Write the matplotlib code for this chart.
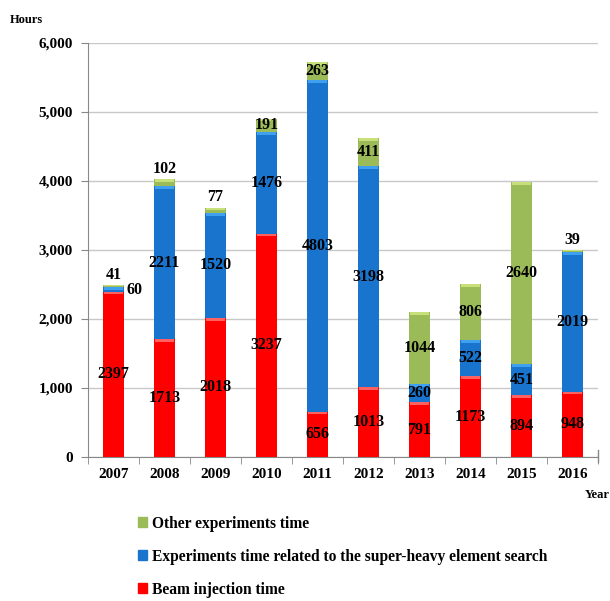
import numpy as np
import matplotlib.pyplot as plt
from matplotlib.patches import Patch

years = ['2007', '2008', '2009', '2010', '2011', '2012', '2013', '2014', '2015', '2016']
beam = [2397, 1713, 2018, 3237, 656, 1013, 791, 1173, 894, 948]
shes = [60, 2211, 1520, 1476, 4803, 3198, 260, 522, 451, 2019]
other = [41, 102, 77, 191, 263, 411, 1044, 806, 2640, 39]

red = '#FF0000'
blue = '#1874CD'
green = '#9BBB59'

plt.rcParams['font.family'] = ['Liberation Serif', 'DejaVu Serif']
plt.rcParams['font.weight'] = 'bold'

fig = plt.figure(figsize=(6.1, 6.01), dpi=100)
ax = fig.add_axes([0.1443, 0.2396, 0.8357, 0.6889])

x = np.arange(len(years))
w = 0.42
b1 = np.array(beam)
b2 = b1 + np.array(shes)
ax.bar(x, beam, w, color=red, zorder=3)
ax.bar(x, shes, w, bottom=b1, color=blue, zorder=3)
ax.bar(x, other, w, bottom=b2, color=green, zorder=3)

# light highlight at top of each segment (rounded look)
for bottoms, vals, c in [(np.zeros(10), beam, '#FF6060'), (b1, shes, '#3FA0F0'), (b2, other, '#C8E07A')]:
    for i in range(10):
        h = min(40, vals[i] * 0.5)
        ax.bar(x[i], h, w * 0.9, bottom=bottoms[i] + vals[i] - h, color=c, zorder=4)

fs = 11.5
for i in range(10):
    ax.text(x[i], beam[i] / 2, str(beam[i]), ha='center', va='center', fontsize=fs, fontweight='bold', zorder=5)
    if shes[i] > 150:
        ax.text(x[i], b1[i] + shes[i] / 2, str(shes[i]), ha='center', va='center', fontsize=fs, fontweight='bold', zorder=5)
    else:
        ax.text(x[i] + 0.25, b1[i] + shes[i] / 2, str(shes[i]), ha='left', va='center', fontsize=fs, fontweight='bold', zorder=5)
    if other[i] > 150:
        ax.text(x[i], b2[i] + other[i] / 2, str(other[i]), ha='center', va='center', fontsize=fs, fontweight='bold', zorder=5)
    else:
        ax.text(x[i], b2[i] + other[i] + 30, str(other[i]), ha='center', va='bottom', fontsize=fs, fontweight='bold', zorder=5)

ax.set_xlim(-0.5, 9.5)
ax.set_ylim(0, 6000)
ax.set_yticks(range(0, 6001, 1000))
ax.set_yticklabels(['{:,}'.format(v) for v in range(0, 6001, 1000)], fontsize=11, fontweight='bold')
ax.set_xticks(x)
ax.set_xticklabels(years, fontsize=11, fontweight='bold')
ax.set_xticks(np.arange(-0.5, 10, 1), minor=True)
ax.tick_params(axis='x', which='major', length=0, pad=8)
ax.tick_params(axis='x', which='minor', length=5, color='#888888')
ax.tick_params(axis='y', length=5, color='#888888', pad=6)
ax.grid(axis='y', color='#C8C8C8', linewidth=1, zorder=0)
for s in ['top', 'right']:
    ax.spines[s].set_visible(False)
ax.spines['left'].set_color('#888888')
ax.spines['bottom'].set_color('#888888')
ax.axvline(9.5, ymin=-0.012, ymax=0.017, color='#888888', linewidth=1, clip_on=False)

fig.text(0.016, 0.967, 'Hours', fontsize=9, fontweight='bold', ha='left', va='center')
fig.text(0.958, 0.176, 'Year', fontsize=9, fontweight='bold', ha='left', va='center')

handles = [Patch(color=green), Patch(color=blue), Patch(color=red)]
labels = ['Other experiments time', 'Experiments time related to the super-heavy element search', 'Beam injection time']
fig.legend(handles, labels, loc='upper left', bbox_to_anchor=(0.226, 0.142), frameon=False,
           fontsize=11.2, handlelength=0.6, handleheight=0.6, handletextpad=0.3, labelspacing=1.1,
           borderpad=0, borderaxespad=0)

fig.savefig('out.png', dpi=100)
